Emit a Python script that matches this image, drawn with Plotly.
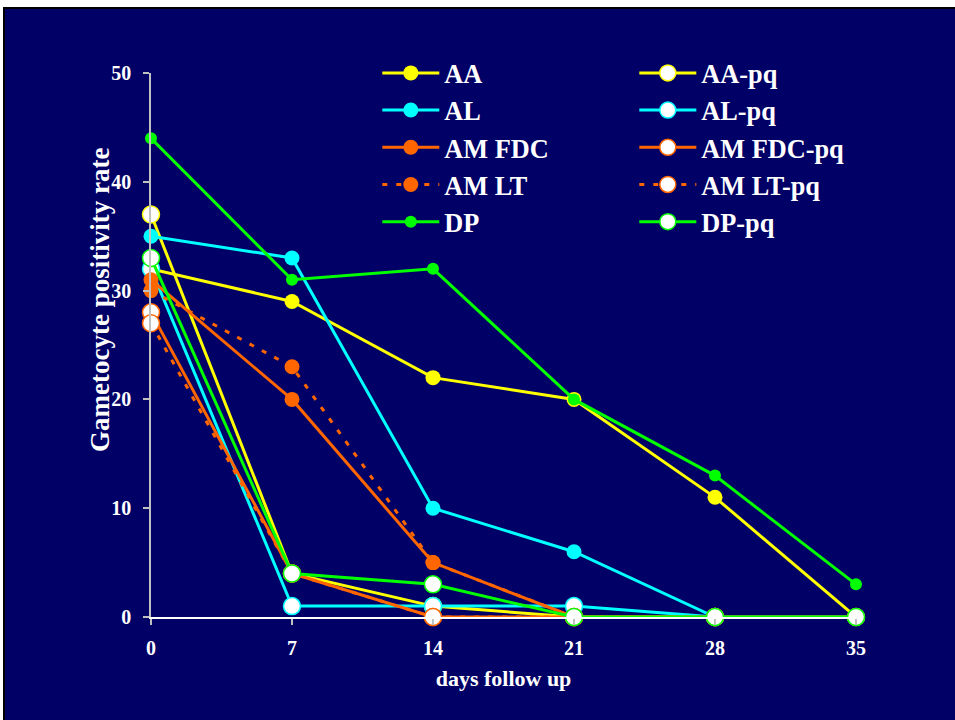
import plotly.graph_objects as go

days = [0, 7, 14, 21, 28, 35]

series_names = ["AA", "AA-pq", "AL", "AL-pq", "AM FDC", "AM FDC-pq",
                "AM LT", "AM LT-pq", "DP", "DP-pq"]

aa = [32, 29, 22, 20, 11, 0]
aa_pq = [37, 4, 1, 0, 0, 0]
al = [35, 33, 10, 6, 0]
al_pq = [32, 1, 1, 1, 0]
am_fdc = [31, 20, 5, 0]
am_fdc_pq = [28, 4, 0, 0, 0]
am_lt = [30, 23, 5, 0]
am_lt_pq = [27, 4, 0, 0, 0]
dp = [44, 31, 32, 20, 13, 3]
dp_pq = [33, 4, 3, 0, 0, 0]

y_ticks = [0, 10, 20, 30, 40, 50]

NAVY = "#000066"
YEL = "#FFFF00"
CYA = "#00FFFF"
ORA = "#FF6600"
GRN = "#00FF00"

specs = [
    ("AA", aa, YEL, False, "solid", 15),
    ("AA-pq", aa_pq, YEL, True, "solid", 17),
    ("AL", al, CYA, False, "solid", 15),
    ("AL-pq", al_pq, CYA, True, "solid", 17),
    ("AM FDC", am_fdc, ORA, False, "solid", 15),
    ("AM FDC-pq", am_fdc_pq, ORA, True, "solid", 17),
    ("AM LT", am_lt, ORA, False, "5px,9px", 15),
    ("AM LT-pq", am_lt_pq, ORA, True, "5px,9px", 17),
    ("DP", dp, GRN, False, "solid", 12),
    ("DP-pq", dp_pq, GRN, True, "solid", 17),
]

fig = go.Figure()
for name, vals, col, hollow, dash, size in specs:
    fig.add_trace(go.Scatter(
        x=days[:len(vals)], y=vals, name=name, mode="lines+markers",
        line=dict(color=col, width=3, dash=dash),
        marker=dict(size=size, color="white" if hollow else col,
                    line=dict(color=col, width=1.5 if hollow else 0)),
        cliponaxis=False,
    ))

font_family = "Liberation Serif"

fig.update_layout(
    width=955, height=720,
    margin=dict(l=151, r=99, t=73, b=103),
    paper_bgcolor="white",
    plot_bgcolor=NAVY,
    font=dict(family=font_family, color="white"),
    showlegend=True,
    legend=dict(
        orientation="h", x=0.321, y=1.0436, xanchor="left", yanchor="top",
        entrywidth=185, entrywidthmode="pixels", itemwidth=57,
        font=dict(size=26.3, family=font_family, color="white", weight="bold"),
        bgcolor="rgba(0,0,0,0)", tracegroupgap=0,
    ),
    shapes=[dict(type="rect", xref="paper", yref="paper", layer="below",
                 x0=-0.2085, x1=1.15, y0=-0.2, y1=1.1195,
                 fillcolor=NAVY, line=dict(color="black", width=2))],
    annotations=[dict(text="Gametocyte positivity rate", textangle=-90,
                      xref="paper", yref="paper", x=-0.0723, y=0.583,
                      xanchor="center", yanchor="middle", showarrow=False,
                      font=dict(size=27, family=font_family, color="white",
                                weight="bold"))],
)

fig.update_xaxes(
    range=[0, 35], tickvals=days, showgrid=False, zeroline=False,
    showline=True, linecolor="white", linewidth=2,
    ticks="outside", ticklen=6, tickcolor="#C0C0C0", tickwidth=1.5,
    ticklabelstandoff=6,
    tickfont=dict(size=20, family=font_family, color="white", weight="bold"),
    title=dict(text="days follow up", standoff=13,
               font=dict(size=22, family=font_family, color="white", weight="bold")),
)
fig.update_yaxes(
    range=[0, 50], tickvals=y_ticks, showgrid=False, zeroline=False,
    showline=True, linecolor="#C0C0C0", linewidth=1.5,
    ticks="outside", ticklen=6, tickcolor="#C0C0C0", tickwidth=1.5,
    ticklabelstandoff=8,
    tickfont=dict(size=20, family=font_family, color="white", weight="bold"),
)

fig.write_html("out.html")
